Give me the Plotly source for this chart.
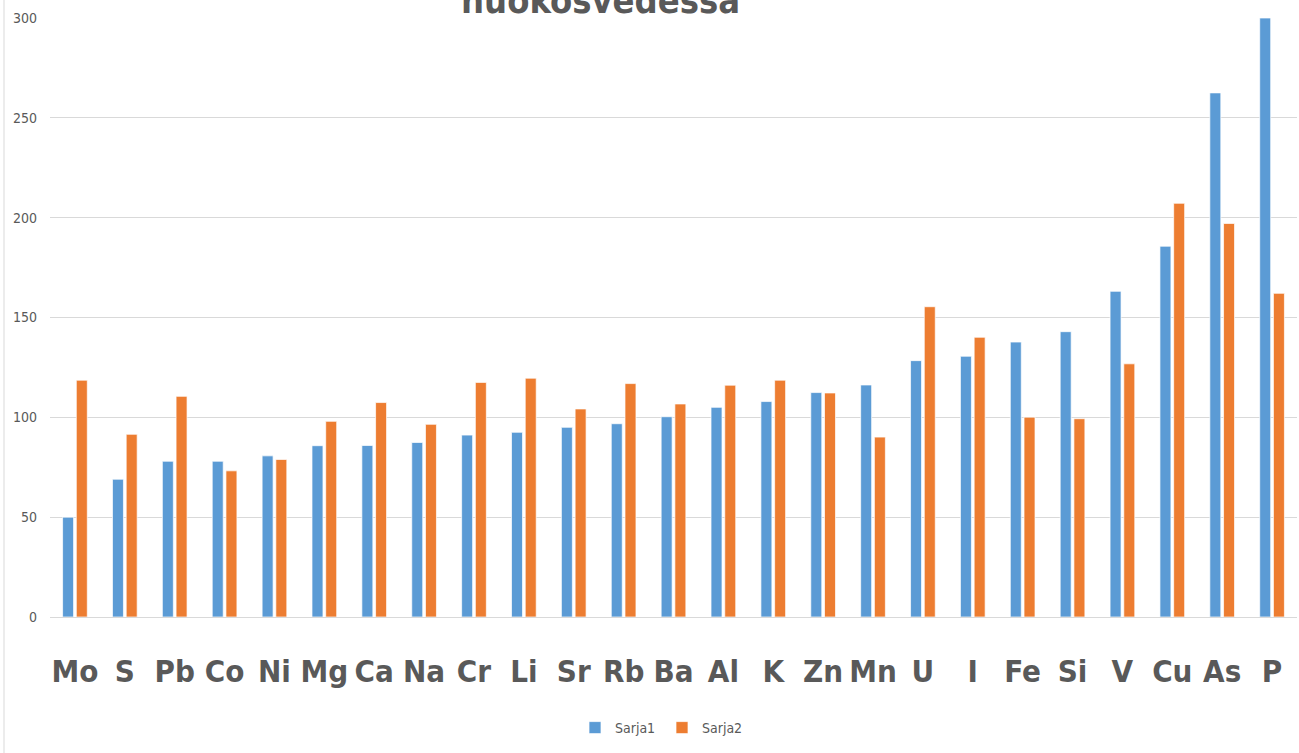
import plotly.graph_objects as go

categories = ["Mo", "S", "Pb", "Co", "Ni", "Mg", "Ca", "Na", "Cr", "Li", "Sr", "Rb", "Ba",
              "Al", "K", "Zn", "Mn", "U", "I", "Fe", "Si", "V", "Cu", "As", "P"]
sarja1 = [50.0, 69.0, 78.0, 78.0, 80.7, 85.8, 85.9, 87.4, 91.1, 92.5, 95.0, 96.8, 100.3,
          105.0, 107.9, 112.4, 116.2, 128.4, 130.6, 137.7, 142.9, 163.1, 185.7, 262.5, 300.0]
sarja2 = [118.6, 91.5, 110.5, 73.2, 78.9, 98.0, 107.4, 96.5, 117.5, 119.6, 104.2, 116.9, 106.7,
          116.1, 118.6, 112.2, 90.1, 155.4, 140.1, 100.1, 99.3, 126.8, 207.2, 197.1, 162.1]
y_ticks = [0, 50, 100, 150, 200, 250, 300]
title_text = "huokosvedessa"

W, H = 1299, 753
L, R, T, B = 50, 2, 18, 136
ph = H - T - B
pw = W - L - R
FONT = "DejaVu Sans Condensed, Liberation Sans Narrow, sans-serif"

fig = go.Figure()
fig.add_trace(go.Bar(x=categories, y=sarja1, name="Sarja1",
                     marker=dict(color="#5B9BD5", line=dict(color="rgba(255,255,255,0.7)", width=1))))
fig.add_trace(go.Bar(x=categories, y=sarja2, name="Sarja2",
                     marker=dict(color="#ED7D31", line=dict(color="rgba(255,255,255,0.7)", width=1))))

fig.update_layout(
    width=W, height=H,
    margin=dict(l=L, r=R, t=T, b=B),
    paper_bgcolor="white", plot_bgcolor="white",
    barmode="group", bargap=0.45, bargroupgap=0.2,
    showlegend=True,
    legend=dict(orientation="h", x=(662 - L) / pw, xanchor="center", y=-(728 - 617) / ph, yanchor="middle",
                font=dict(family=FONT, size=14, color="#595959"),
                itemwidth=30, entrywidth=42, entrywidthmode="pixels", bgcolor="rgba(0,0,0,0)"),
    xaxis=dict(showgrid=False, showline=False, ticks="", ticklabelstandoff=33,
               tickfont=dict(family=FONT, size=31, color="#595959", weight="bold")),
    yaxis=dict(range=[0, 300], tickvals=y_ticks, showgrid=True, gridcolor="#D9D9D9", gridwidth=1,
               zeroline=True, zerolinecolor="#D9D9D9", zerolinewidth=1, showline=False, ticks="",
               ticklabelstandoff=12,
               tickfont=dict(family=FONT, size=14, color="#595959")),
    annotations=[dict(text=title_text, xref="paper", yref="paper", x=(600 - L) / pw, xanchor="center",
                      y=1 + (T - 23) / ph, yanchor="bottom", showarrow=False,
                      font=dict(family=FONT, size=36, color="#595959", weight="bold"))],
    shapes=[dict(type="line", xref="paper", yref="paper", x0=(4 - L) / pw, x1=(4 - L) / pw,
                 y0=-B / ph, y1=1 + T / ph, line=dict(color="#D9D9D9", width=1))],
)

fig.write_html("out.html")
